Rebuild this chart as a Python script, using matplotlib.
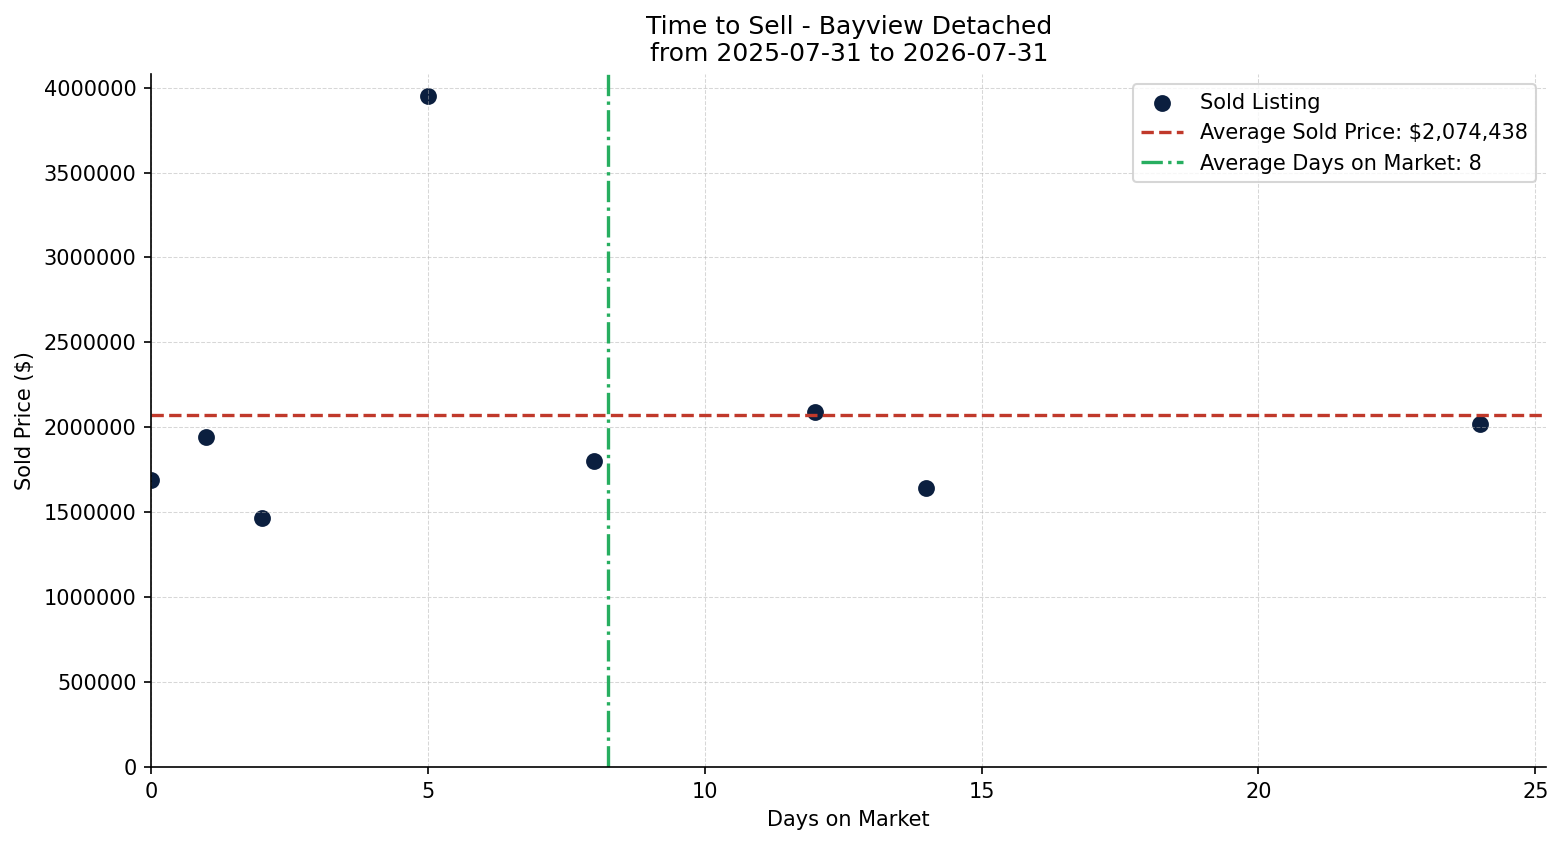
import matplotlib
matplotlib.use("Agg")
import matplotlib.pyplot as plt
import numpy as np

days = [0, 1, 2, 5, 8, 12, 14, 24]
prices = [1690000, 1940000, 1465000, 3950000, 1800000, 2090000, 1640000, 2020000]
avg_price_label = "$2,074,438"
title = "Time to Sell - Bayview Detached\nfrom 2025-07-31 to 2026-07-31"

avg_price = np.mean(prices)
avg_days = np.mean(days)

fig, ax = plt.subplots(figsize=(1562/150, 845/150), dpi=150)
fig.subplots_adjust(left=0.0967, right=0.99, top=0.9125, bottom=0.0923)

ax.scatter(days, prices, s=50, color="#0b1f3f", label="Sold Listing", zorder=2)
ax.axhline(avg_price, color="#c0392b", linestyle="--", linewidth=1.6,
           label=f"Average Sold Price: {avg_price_label}", zorder=3)
ax.axvline(avg_days, color="#27ae60", linestyle="-.", linewidth=1.6,
           label=f"Average Days on Market: {int(avg_days)}", zorder=3)

ax.set_xlim(0, max(days) * 1.05)
ax.set_ylim(0, max(prices) * 1.033)
ax.grid(True, linestyle="--", linewidth=0.5, color="#b0b0b0", alpha=0.5, zorder=2.4)
ax.set_axisbelow(False)
for s in ax.spines.values():
    s.set_zorder(4)
ax.ticklabel_format(axis="y", style="plain", useOffset=False)
ax.spines["top"].set_visible(False)
ax.spines["right"].set_visible(False)
ax.set_xlabel("Days on Market")
ax.set_ylabel("Sold Price ($)")
ax.set_title(title, fontsize=12)
ax.legend(loc="upper right")

fig.savefig("out.png", dpi=150)
